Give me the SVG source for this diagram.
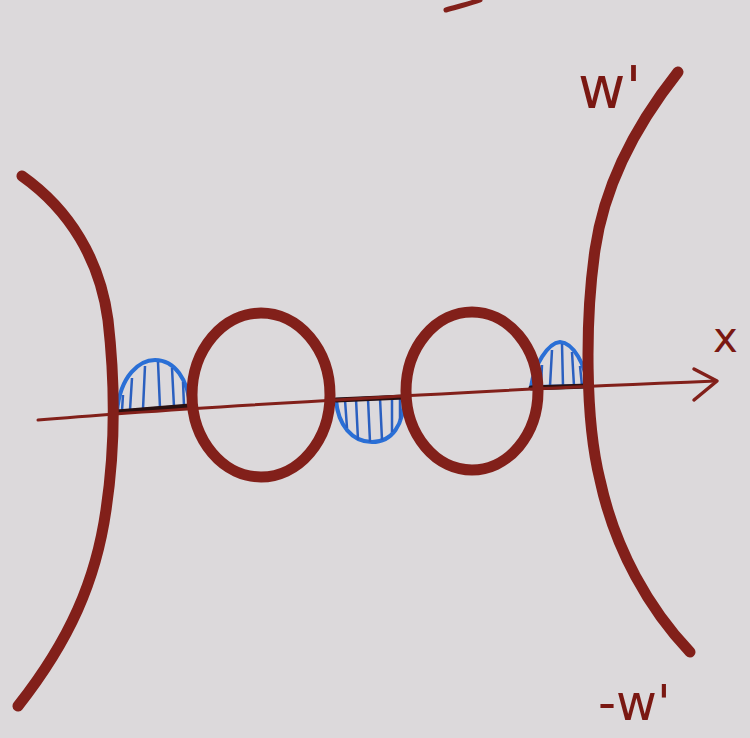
<svg xmlns="http://www.w3.org/2000/svg" width="750" height="738" viewBox="0 0 750 738">
<style>
.ink{fill:none;stroke:#82201a;stroke-linecap:round;stroke-linejoin:round}
.thick{stroke-width:11}
.blue{fill:#dcd9dc;stroke:#2a6fd6;stroke-width:4}
.hatch{stroke:#2a5fc0;stroke-width:2.5;fill:none}
.base{stroke:#2a1010;stroke-width:5;fill:none;stroke-linecap:round}
.lbl{font-family:"DejaVu Sans","Liberation Sans",sans-serif;fill:#7a1812}
</style>
<rect x="0" y="0" width="750" height="738" fill="#dcd9db"/>
<g id="shaded">
<path class="blue" d="M117,412 C120,375 140,360 155,360 C175,360 188,380 190,406 Z"/>
<path class="hatch" d="M132,378 L130,410 M145,366 L143,409 M158,362 L160,408 M172,368 L174,407 M183,382 L184,406 M123,395 L122,411"/>
<path class="base" d="M117,412 L190,406"/>
<path class="blue" d="M336,400 C338,425 352,442 372,442 C392,442 404,425 404,397 Z"/>
<path class="hatch" d="M345,400 L347,428 M356,399 L358,440 M368,399 L370,442 M380,398 L382,440 M392,398 L392,432 M400,397 L400,420"/>
<path class="base" d="M336,400 L404,397"/>
<path class="blue" d="M531,387 C534,365 548,343 560,342 C574,343 585,365 588,386 Z"/>
<path class="hatch" d="M542,365 L541,386 M552,350 L550,386 M562,344 L563,386 M572,352 L574,386 M580,366 L582,386"/>
<path class="base" d="M531,388 L588,386"/>
</g>
<g id="connectors">
<path class="ink" stroke-width="3" d="M38,420 C150,410 300,402 420,395 C540,388 640,384 716,381"/>
<path class="ink" stroke-width="3.5" d="M694,369 L717,381 L694,400"/>
</g>
<g id="left-curve">
<path class="ink thick" d="M22,176 C70,210 100,260 108,320 C116,390 115,450 106,510 C96,580 70,640 18,706"/>
</g>
<g id="right-curve">
<path class="ink thick" d="M678,72 C640,120 605,180 595,250 C585,320 585,420 600,480 C615,550 650,610 690,652"/>
</g>
<g id="circle-1">
<ellipse class="ink thick" cx="261" cy="395" rx="69" ry="82"/>
</g>
<g id="circle-2">
<ellipse class="ink thick" cx="472" cy="391" rx="66" ry="79"/>
</g>
<g id="top-mark">
<path class="ink" stroke-width="5" d="M446,10 C460,6 472,3 480,0"/>
</g>
<g id="labels">
<text class="lbl" x="578" y="108" font-size="58">w'</text>
<text class="lbl" x="598" y="720" font-size="50">-w'</text>
<text class="lbl" x="713" y="352" font-size="42">x</text>
</g>
</svg>
